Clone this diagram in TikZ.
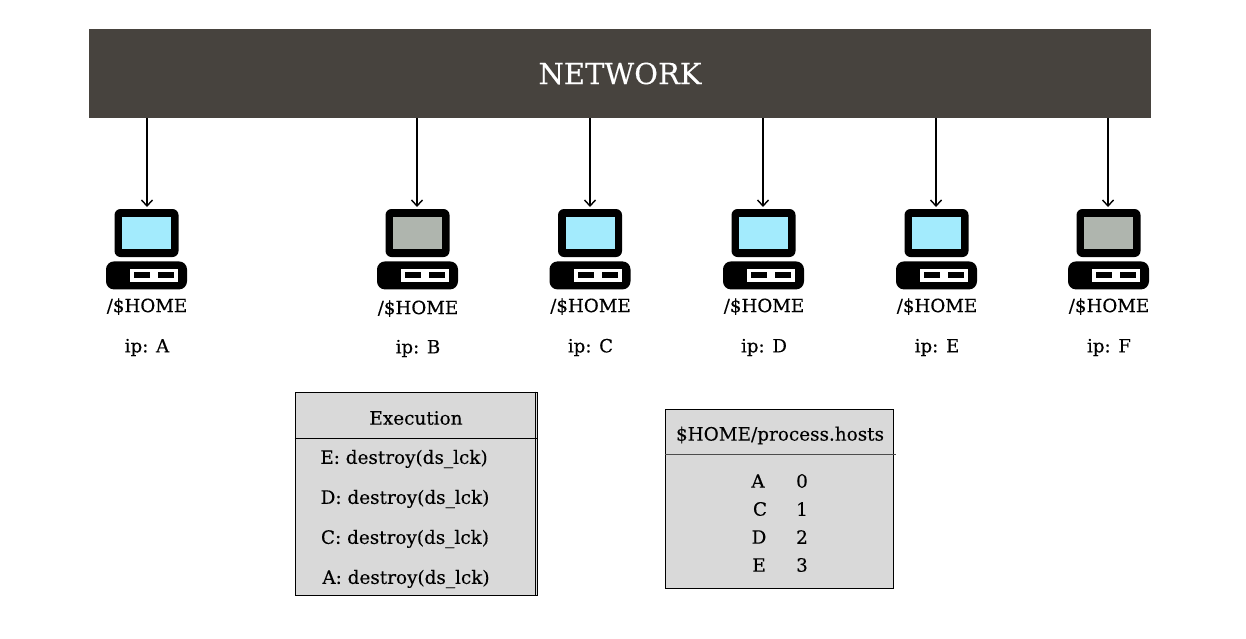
\documentclass[tikz,border=0pt]{standalone}
\usepackage{fontspec}
\setmainfont{DejaVu Serif}[FakeBold=0.25]
\usetikzlibrary{arrows.meta}
\usetikzlibrary{positioning}
\definecolor{networkcolor}{HTML}{47433E}
\definecolor{tablecolor}{HTML}{D9D9D9}
\definecolor{activecolor}{HTML}{A3EBFD}
\definecolor{deadcolor}{HTML}{AFB5AE}
\tikzset{
    monitor/.style={rectangle, draw=none, fill=black, rounded corners=6pt, minimum width=64pt, minimum height=48pt, inner sep=0pt},
    display/.style={rectangle, draw=none, minimum width=49pt, minimum height=32pt, inner sep=0pt},
    tower/.style={rectangle, draw=none, fill=black, rounded corners=8pt, minimum width=81pt, minimum height=28pt, inner sep=0pt},
    slot/.style={rectangle, draw=none, fill=white, minimum width=48pt, minimum height=13pt, inner sep=0pt},
    hole/.style={rectangle, draw=none, fill=black, minimum width=16pt, minimum height=6pt, inner sep=0pt},
    hostlabel/.style={font=\fontsize{18.2}{21}\selectfont, inner sep=0pt},
    tablebox/.style={rectangle, draw=black, fill=tablecolor, line width=0.8pt, inner sep=0pt},
    tabletext/.style={font=\fontsize{18.4}{21}\selectfont, inner sep=0pt},
    link/.style={-{Straight Barb[length=6pt,width=11pt]}, line width=1.4pt},
}

\begin{document}
\begin{tikzpicture}[x=1pt, y=-1pt]
    \useasboundingbox (0,0) rectangle (1246,638);
    \node[rectangle, fill=networkcolor, text=white, minimum width=1062pt, minimum height=89pt, inner sep=0pt,
        font=\fontsize{29}{32}\selectfont]
        (network) at (620,73.5) {NETWORK};
    % hosts
    \foreach \hostname/\hostx/\arrowx/\screencolor/\labelshift in {
        A/146.5/147/activecolor/0, B/417.5/417/deadcolor/2, C/590/590/activecolor/0,
        D/763.5/763/activecolor/0, E/936.5/936/activecolor/0, F/1108.5/1108/deadcolor/0} {
        \node[monitor] (mon_\hostname) at (\hostx,233) {};
        \node[display, fill=\screencolor] (screen_\hostname) at (mon_\hostname) {};
        \node[tower, below=4pt of mon_\hostname] (tower_\hostname) {};
        \node[slot] (slot_\hostname) at ([xshift=7.5pt]tower_\hostname.center) {};
        \node[hole, xshift=-12pt] (hole_l_\hostname) at (slot_\hostname) {};
        \node[hole, xshift=12pt] (hole_r_\hostname) at (slot_\hostname) {};
        \node[hostlabel] (home_\hostname) at (\hostx+0.5,306.5+\labelshift) {/\$HOME};
        \node[hostlabel] (ip_\hostname) at (\hostx+0.5,347.5+\labelshift/2) {ip: \hostname};
        \coordinate (tip_\hostname) at (\arrowx,207);
        \draw[link] (network.south -| tip_\hostname) -- (tip_\hostname);
    }
    % execution table
    \node[tablebox, minimum width=242pt, minimum height=203pt] (execution) at (416,493.5) {};
    \draw[line width=0.8pt] ([xshift=-2.5pt]execution.north east) -- ([xshift=-2.5pt]execution.south east);
    \coordinate (exec_line) at (0,438.5);
    \draw[line width=0.8pt] (execution.west |- exec_line) -- (execution.east |- exec_line);
    \node[tabletext] (exec_title) at (416,418) {Execution};
    \node[tabletext] (exec_e) at (404,459) {E: destroy(ds\_lck)};
    \node[tabletext] (exec_d) at (405,499) {D: destroy(ds\_lck)};
    \node[tabletext] (exec_c) at (405,539) {C: destroy(ds\_lck)};
    \node[tabletext] (exec_a) at (406,579) {A: destroy(ds\_lck)};
    % hosts file
    \node[tablebox, minimum width=228pt, minimum height=179pt] (hosts) at (779,498.5) {};
    \coordinate (hosts_line) at (896,454);
    \draw[line width=0.8pt, black!70] (hosts.west |- hosts_line) -- (hosts_line);
    \node[tabletext] (hosts_title) at (780,435.5) {\$HOME/process.hosts};
    \foreach \rowname/\rank/\rowx/\rowy in {A/0/758/481, C/1/760/509, D/2/759/537, E/3/759/565} {
        \node[tabletext] (row_\rowname) at (\rowx,\rowy) {\rowname};
        \node[tabletext] (rank_\rowname) at (802,\rowy) {\rank};
    }
\end{tikzpicture}
\end{document}
